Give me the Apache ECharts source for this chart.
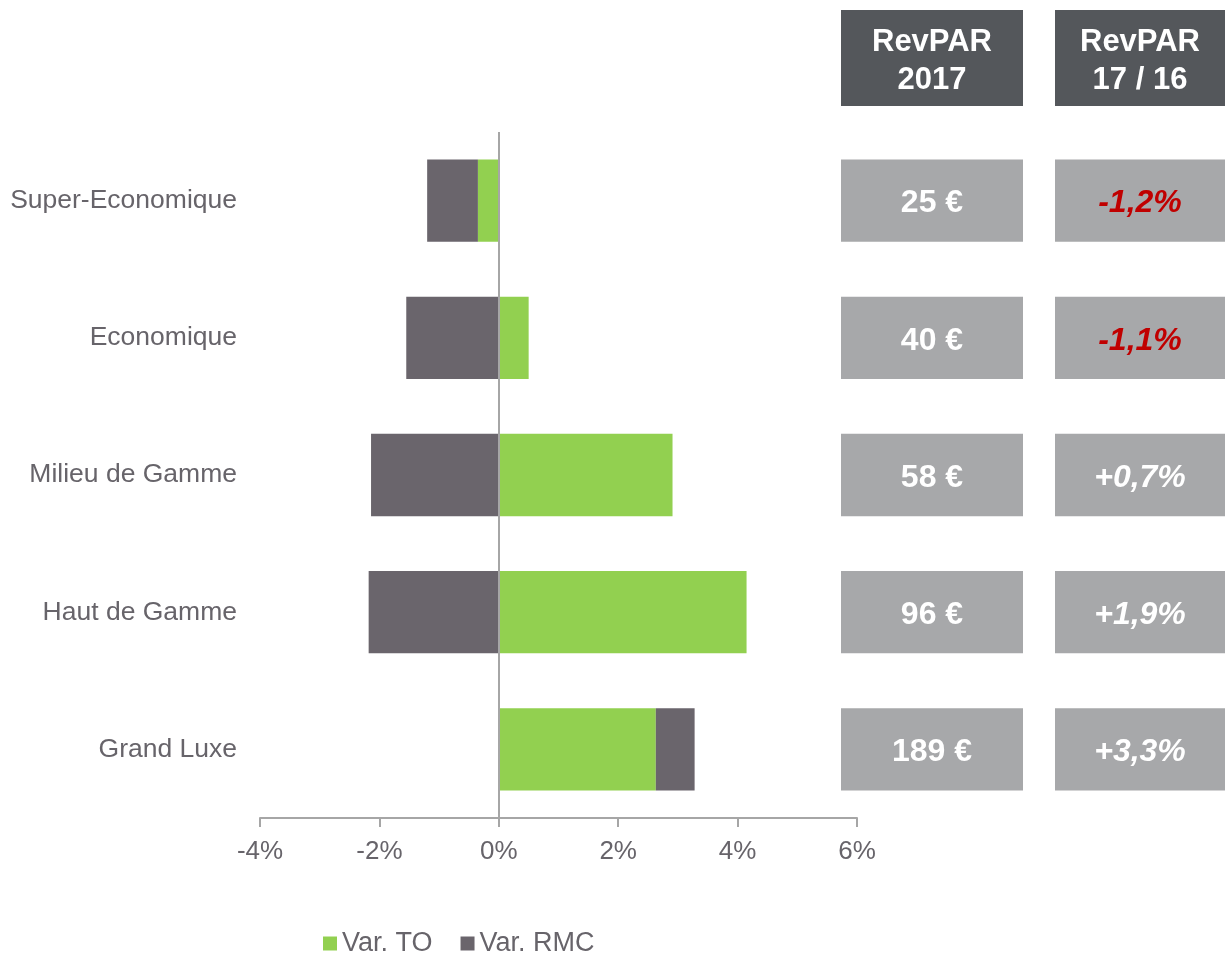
<!DOCTYPE html>
<html>
<head>
<meta charset="utf-8">
<script src="https://cdn.jsdelivr.net/npm/echarts@6/dist/echarts.min.js"></script>
<style>html,body{margin:0;padding:0;background:#fff}#c{width:1225px;height:953px}</style>
</head>
<body>
<div id="c"></div>
<script>
var categories = ['Super-Economique', 'Economique', 'Milieu de Gamme', 'Haut de Gamme', 'Grand Luxe'];
var varTO = [-0.35, 0.5, 2.91, 4.15, 2.63];
var varRMC = [-0.85, -1.55, -2.14, -2.18, 0.65];
var revpar2017 = [25, 40, 58, 96, 189];
var revparVar = [-1.2, -1.1, 0.7, 1.9, 3.3];
var xTicks = [-4, -2, 0, 2, 4, 6];
var headers = ['RevPAR\n2017', 'RevPAR\n17 / 16'];

var FONT = 'Arial, "Liberation Sans", sans-serif';
var TXT = '#67646a';
var AX = '#a6a6a6';

var chart = echarts.init(document.getElementById('c'), null, {renderer: 'canvas'});

function fmtVar(v) {
  return (v > 0 ? '+' : '') + v.toFixed(1).replace('.', ',') + '%';
}

var cellGrids = [
  {left: 841, width: 182, top: 132, height: 686},
  {left: 1055, width: 170, top: 132, height: 686}
];

var option = {
  animation: false,
  textStyle: {fontFamily: FONT},
  legend: {
    left: 318, top: 925,
    itemWidth: 14, itemHeight: 14, itemGap: 28,
    icon: 'rect',
    textStyle: {fontFamily: FONT, fontSize: 27, color: TXT},
    data: ['Var. TO', 'Var. RMC']
  },
  grid: [
    {left: 260, width: 597, top: 132, height: 686},
    cellGrids[0], cellGrids[1]
  ],
  xAxis: [
    {
      gridIndex: 0, type: 'value',
      min: xTicks[0], max: xTicks[xTicks.length - 1], interval: 2,
      axisLine: {show: true, lineStyle: {color: AX, width: 2}},
      axisTick: {show: true, length: 9, lineStyle: {color: AX, width: 2}},
      splitLine: {show: false},
      axisLabel: {formatter: '{value}%', fontSize: 26, color: TXT, margin: 21, fontFamily: FONT}
    },
    {gridIndex: 1, type: 'value', min: 0, max: 1, show: false},
    {gridIndex: 2, type: 'value', min: 0, max: 1, show: false}
  ],
  yAxis: [
    {
      gridIndex: 0, type: 'category', data: categories, inverse: true,
      axisLine: {show: false}, axisTick: {show: false},
      axisLabel: {fontSize: 26.5, color: TXT, margin: 23, fontFamily: FONT}
    },
    {gridIndex: 1, type: 'category', data: categories, inverse: true, show: false},
    {gridIndex: 2, type: 'category', data: categories, inverse: true, show: false}
  ],
  series: [
    {
      name: 'Var. TO', type: 'bar', stack: 'v', xAxisIndex: 0, yAxisIndex: 0,
      data: varTO, barWidth: '60%', itemStyle: {color: '#92d050'},
      markLine: {
        silent: true, symbol: 'none', label: {show: false},
        lineStyle: {color: AX, width: 2, type: 'solid'},
        data: [{xAxis: 0}],
        z: 10
      }
    },
    {
      name: 'Var. RMC', type: 'bar', stack: 'v', xAxisIndex: 0, yAxisIndex: 0,
      data: varRMC, barWidth: '60%', itemStyle: {color: '#6a656c'}
    },
    {
      name: 'RevPAR 2017', type: 'bar', xAxisIndex: 1, yAxisIndex: 1, barWidth: '60%',
      data: revpar2017.map(function (v) { return {value: 1}; }),
      itemStyle: {color: '#a7a8aa'}, silent: true,
      label: {
        show: true, position: 'inside', color: '#ffffff', fontSize: 32, fontWeight: 'bold', fontFamily: FONT,
        offset: [0, 3],
        formatter: function (p) { return revpar2017[p.dataIndex] + ' €'; }
      }
    },
    {
      name: 'RevPAR 17/16', type: 'bar', xAxisIndex: 2, yAxisIndex: 2, barWidth: '60%',
      data: revparVar.map(function (v) {
        return {value: 1, label: {color: v < 0 ? '#c00000' : '#ffffff'}};
      }),
      itemStyle: {color: '#a7a8aa'}, silent: true,
      label: {
        show: true, position: 'inside', fontSize: 32, fontWeight: 'bold', fontStyle: 'italic', fontFamily: FONT,
        offset: [0, 3],
        formatter: function (p) { return fmtVar(revparVar[p.dataIndex]); }
      }
    }
  ],
  graphic: cellGrids.map(function (g, i) {
    return {
      type: 'group', left: g.left, top: 10,
      children: [
        {type: 'rect', shape: {x: 0, y: 0, width: g.width, height: 96}, style: {fill: '#54575b'}},
        {type: 'text', x: g.width / 2, y: 51,
         style: {text: headers[i], fill: '#ffffff', font: 'bold 31px ' + FONT,
                 align: 'center', verticalAlign: 'middle', lineHeight: 38}}
      ]
    };
  })
};
chart.setOption(option);
</script>
</body>
</html>
